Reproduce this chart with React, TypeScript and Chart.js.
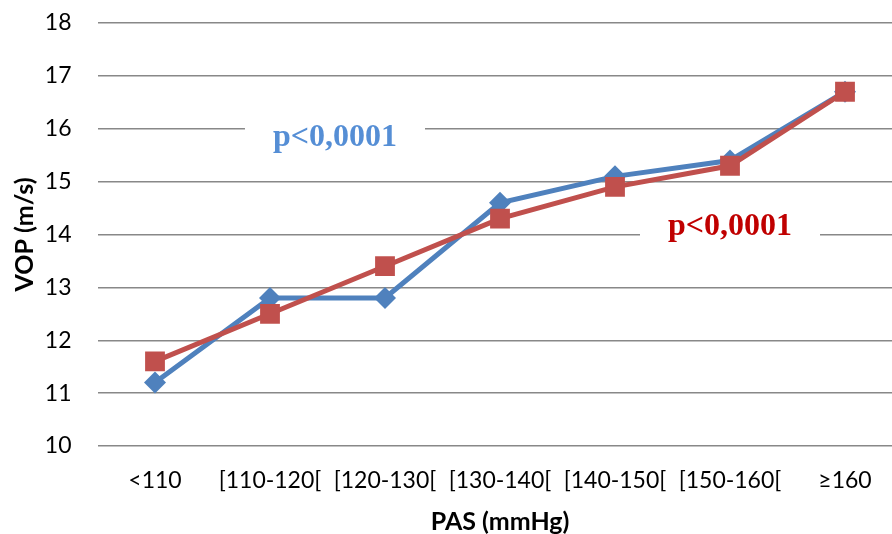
import React, { useEffect, useRef } from "react";
import { Chart, registerables } from "chart.js";

Chart.register(...registerables);

const categories = ["<110", "[110-120[", "[120-130[", "[130-140[", "[140-150[", "[150-160[", "≥160"];
const blueSeries = [11.2, 12.8, 12.8, 14.6, 15.1, 15.4, 16.7];
const redSeries = [11.6, 12.5, 13.4, 14.3, 14.9, 15.3, 16.7];
const yTitle = "VOP (m/s)";
const xTitle = "PAS (mmHg)";
const blueNote = "p<0,0001";
const redNote = "p<0,0001";

const BLUE = "#4F81BD";
const RED = "#C0504D";
const FONT = "Lato, 'Open Sans', sans-serif";

const notesPlugin = {
  id: "notes",
  afterDatasetsDraw(chart: any) {
    const ctx = chart.ctx;
    const x = chart.scales.x;
    const y = chart.scales.y;
    const notes = [
      { text: blueNote, color: "#558ED5", xi: 1.565, yv: 15.84 },
      { text: redNote, color: "#C00000", xi: 5.0, yv: 14.16 },
    ];
    ctx.save();
    ctx.font = "bold 32px 'Liberation Serif', 'Times New Roman', serif";
    ctx.textAlign = "center";
    ctx.textBaseline = "middle";
    for (const n of notes) {
      const px = x.getPixelForValue(n.xi);
      const py = y.getPixelForValue(n.yv);
      const w = ctx.measureText(n.text).width + 56;
      ctx.fillStyle = "#ffffff";
      ctx.fillRect(px - w / 2, py - 22, w, 44);
      ctx.fillStyle = n.color;
      ctx.fillText(n.text, px, py + 1);
    }
    ctx.restore();
  },
};

export default function App() {
  const ref = useRef<HTMLCanvasElement>(null);
  useEffect(() => {
    document.body.style.margin = "0";
    document.body.style.overflow = "hidden";
    const chart = new Chart(ref.current!, {
      type: "line",
      data: {
        labels: categories,
        datasets: [
          {
            data: blueSeries,
            borderColor: BLUE,
            backgroundColor: BLUE,
            borderWidth: 5,
            pointStyle: "rectRot",
            pointRadius: 11,
            pointHoverRadius: 11,
            pointBorderWidth: 0,
            tension: 0,
            order: 2,
          },
          {
            data: redSeries,
            borderColor: RED,
            backgroundColor: RED,
            borderWidth: 5,
            pointStyle: "rect",
            pointRadius: 14,
            pointHoverRadius: 14,
            pointBorderWidth: 0,
            tension: 0,
            order: 1,
          },
        ],
      },
      options: {
        animation: false,
        responsive: false,
        maintainAspectRatio: false,
        layout: { autoPadding: false, padding: { left: 10, top: 23, right: 17.5, bottom: 0 } },
        plugins: { legend: { display: false }, tooltip: { enabled: false } },
        scales: {
          x: {
            offset: true,
            grid: { display: false, drawTicks: false },
            border: { display: false },
            afterFit: (s: any) => {
              s.height = 88;
            },
            ticks: {
              color: "#000",
              font: { family: FONT, size: 23 },
              padding: 21,
              maxRotation: 0,
              autoSkip: false,
            },
            title: {
              display: true,
              text: xTitle,
              color: "#000",
              font: { family: FONT, size: 25, weight: "bold" },
              padding: { top: 8, bottom: -3 },
            },
          },
          y: {
            min: 10,
            max: 18,
            grid: { color: "#888888", lineWidth: 1.5, drawTicks: false },
            border: { display: false },
            afterFit: (s: any) => {
              s.width = 87.5;
              s.paddingTop = 0;
              s.paddingBottom = 0;
            },
            ticks: {
              stepSize: 1,
              color: "#000",
              font: { family: FONT, size: 23 },
              padding: 26,
            },
            title: {
              display: true,
              text: yTitle,
              color: "#000",
              font: { family: FONT, size: 25, weight: "bold" },
              padding: { top: 0, bottom: 6 },
            },
          },
        },
      },
      plugins: [notesPlugin],
    });
    return () => chart.destroy();
  }, []);
  return (
    <div style={{ position: "fixed", left: 0, top: 0, width: 892, height: 534, overflow: "hidden", background: "#fff" }}>
      <canvas ref={ref} width={920} height={534} style={{ display: "block" }} />
    </div>
  );
}
